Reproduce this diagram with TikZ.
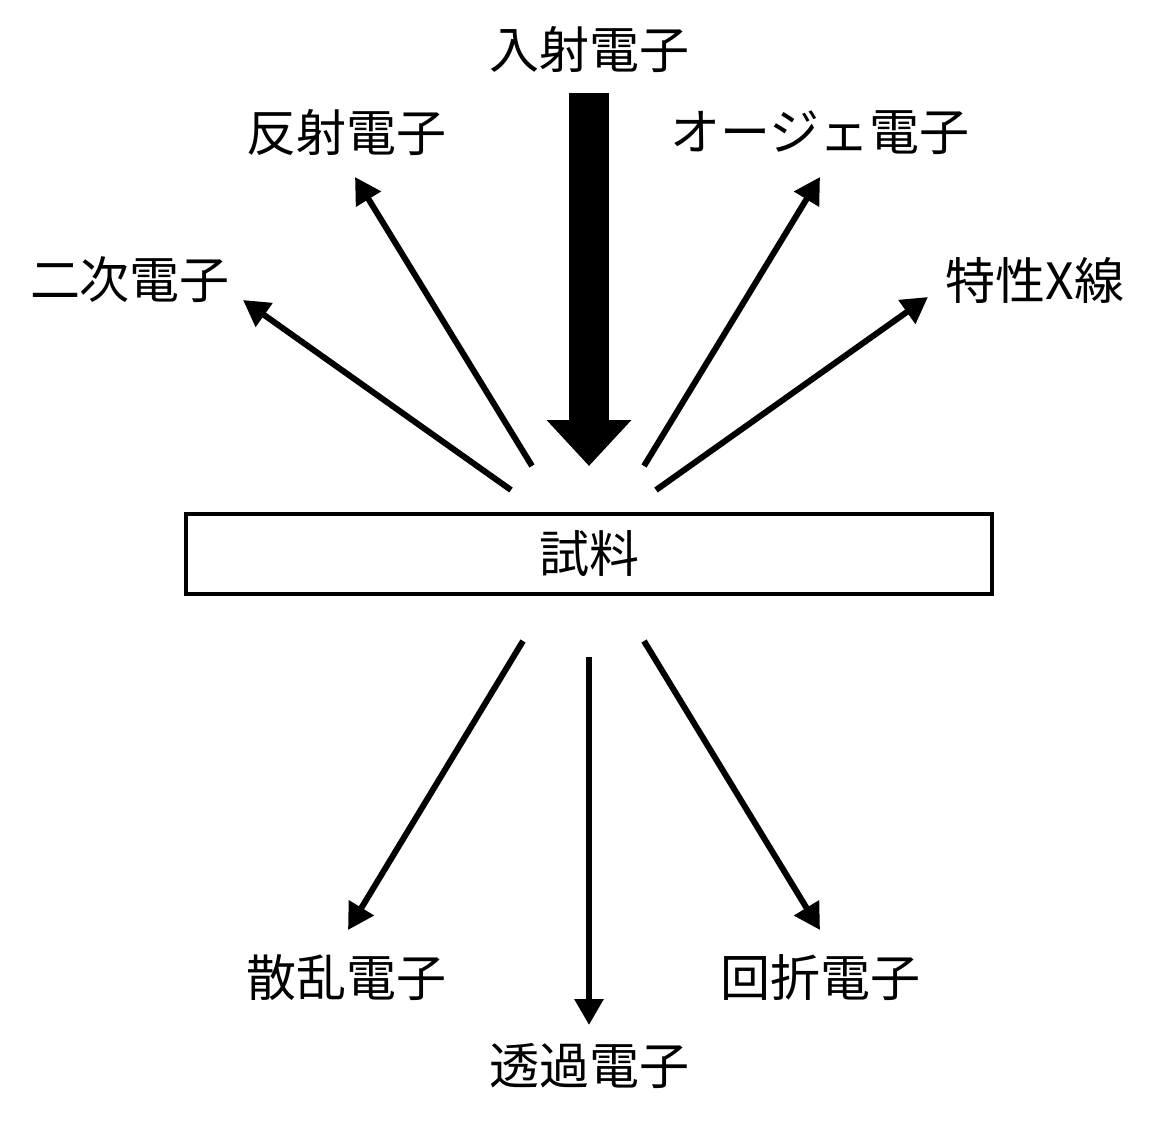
\documentclass[tikz,border=0pt]{standalone}
\usepackage{fontspec}
\setmainfont{Noto Sans CJK JP}
\usetikzlibrary{arrows.meta}
\begin{document}
\begin{tikzpicture}[x=1pt,y=-1pt,
  lbl/.style={font=\fontsize{50}{56}\selectfont},
  ray/.style={line width=6pt,-{Triangle[length=26pt,width=28pt]}}]
\useasboundingbox (0,0) rectangle (1157,1122);
\node[draw,line width=4pt,minimum width=806pt,minimum height=80pt,font=\fontsize{50}{56}\selectfont] (s) at (589,554) {試料};
\node[lbl] (in) at (589,50) {入射電子};
\node[lbl] (re) at (346,133) {反射電子};
\node[lbl] (au) at (820,133) {オージェ電子};
\node[lbl] (se) at (130,280) {二次電子};
\node[lbl] (xr) at (1035,280) {特性X線};
\node[lbl] (sc) at (346,978) {散乱電子};
\node[lbl] (tr) at (589,1066) {透過電子};
\node[lbl] (di) at (820,978) {回折電子};
\coordinate (a0) at (589,93); \coordinate (a1) at (589,466);
\draw[line width=40pt,-{Triangle[length=46pt,width=82pt]}] (a0) -- (a1);
\coordinate (b0) at (511,490); \coordinate (b1) at (243,300);
\coordinate (c0) at (532,466); \coordinate (c1) at (355,177);
\coordinate (d0) at (644,466); \coordinate (d1) at (820,177);
\coordinate (e0) at (656,490); \coordinate (e1) at (928,297);
\coordinate (f0) at (523,641); \coordinate (f1) at (348,930);
\coordinate (g0) at (589,657); \coordinate (g1) at (589,1025);
\coordinate (h0) at (644,641); \coordinate (h1) at (820,930);
\foreach \p in {b,c,d,e,f,g,h}{\draw[ray] (\p0) -- (\p1);}
\end{tikzpicture}
\end{document}
